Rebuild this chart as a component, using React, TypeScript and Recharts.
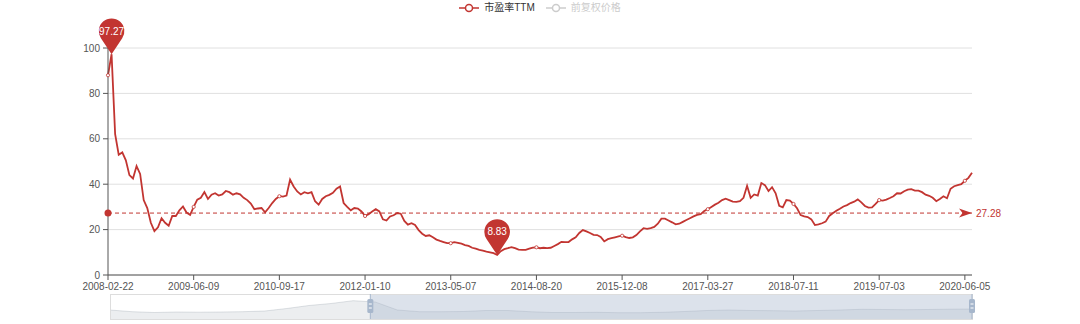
import React from 'react';
import {
  LineChart,
  Line,
  XAxis,
  YAxis,
  CartesianGrid,
  ReferenceLine,
  ReferenceDot,
  AreaChart,
  Area,
  ReferenceArea,
} from 'recharts';

// ---------- data ----------
const SERIES_NAME = '市盈率TTM';
const HIDDEN_SERIES_NAME = '前复权价格';
const TICK_LABELS = [
  '2008-02-22', '2009-06-09', '2010-09-17', '2012-01-10', '2013-05-07', '2014-08-20',
  '2015-12-08', '2017-03-27', '2018-07-11', '2019-07-03', '2020-06-05',
];
const POINTS_PER_TICK = 24;
const Y_TICKS = [0, 20, 40, 60, 80, 100];
const AVERAGE_PE = 27.28;

// PE TTM, sampled evenly (24 samples between two axis labels)
const PE_2008 = [88, 97.27, 62, 53, 54, 50.5, 44, 42.5, 48, 44.5, 33, 29.5, 23, 19.3, 21, 25, 23, 21.7, 26, 26, 28.5, 30.2, 27.5, 26.5];
const PE_2009 = [30, 33.2, 34, 36.5, 33.5, 35.4, 36, 35, 35.5, 37, 36.5, 35.4, 36, 35.5, 34, 33, 31.5, 29, 29.3, 29.5, 27.6, 29.5, 31.7, 33.5];
const PE_2010 = [34.7, 34.5, 35, 42, 39, 36.8, 35.5, 36.5, 36, 36.5, 32.5, 31, 33.5, 34.7, 35.3, 36.2, 38, 39, 31.7, 30, 28.5, 29.5, 29.3, 28];
const PE_2012 = [26, 26.8, 28, 29, 28, 24.5, 24, 25.8, 26.3, 27.3, 27, 23.8, 22.2, 22.8, 22, 19.8, 18.2, 17.2, 17.5, 16.6, 15.6, 15, 14.5, 14];
const PE_2013 = [14, 14.5, 14.2, 13.8, 13.2, 12.8, 12, 11.6, 11.1, 10.7, 10.3, 10, 9.6, 8.83, 10.5, 11.4, 11.8, 12.3, 11.8, 11.2, 11.1, 11.1, 11.6, 12.1];
const PE_2014 = [12.2, 11.8, 12, 11.8, 12, 12.8, 13.6, 14.6, 14.5, 14.5, 15.7, 16.6, 18.5, 19.8, 19.2, 18.5, 17.7, 17.6, 16.8, 14.8, 15.8, 16.2, 16.6, 17];
const PE_2015 = [17.3, 16.7, 16.3, 16.6, 17.6, 19.2, 20.6, 20.3, 20.7, 21.2, 22.6, 24.8, 24.8, 24, 23.2, 22.3, 22.6, 23.4, 24.2, 25, 25.8, 26.5, 26.8, 28.2];
const PE_2017 = [29, 30, 31, 31.8, 33, 33.6, 33, 32.3, 32.2, 32.5, 34, 39.3, 34, 35.5, 35, 40.5, 39.6, 37, 38.7, 36, 30.5, 29.8, 33, 32.8];
const PE_2018 = [31.3, 29.4, 26.4, 25.8, 25.5, 24.5, 22, 22.3, 22.8, 23.5, 26, 27.2, 28.3, 29.2, 30.2, 30.8, 31.7, 32.3, 33.3, 32, 30.4, 29.7, 29.8, 31.3];
const PE_2019 = [33, 32.8, 33.2, 33.9, 34.7, 36, 35.9, 36.9, 37.6, 37.8, 37.2, 37.2, 36.5, 35.4, 34.9, 34, 32.5, 33.5, 34.7, 33.8, 38, 39.1, 39.6, 40];
const PE_2020 = [41.5, 42.8, 45];

// data-zoom preview (background series, 40 even samples)
const ZOOM_PREVIEW = [9, 7.3, 6.5, 7, 6.8, 7, 7.3, 8, 10.5, 13.5, 15.5, 18.3, 17, 9, 7.3, 7.3, 7.5, 8.5, 8.5, 7.3, 6.5, 6.5, 6.7, 6.3, 6.3, 6.7, 7.5, 8.5, 9, 8.5, 8.3, 8, 8.5, 9, 9.7, 9.5, 9.3, 9.5, 9.8, 10];
const ZOOM_START_PCT = 30.2;
const ZOOM_END_PCT = 100;

// ---------- derived ----------
const PE_VALUES = [
  ...PE_2008, ...PE_2009, ...PE_2010, ...PE_2012, ...PE_2013, ...PE_2014,
  ...PE_2015, ...PE_2017, ...PE_2018, ...PE_2019, ...PE_2020,
];
const DATA = PE_VALUES.map((pe, i) => ({ i, pe }));
const LAST_INDEX = PE_VALUES.length - 1;
const TICK_IDX = TICK_LABELS.map((_, k) => k * POINTS_PER_TICK);
const MAX_IDX = PE_VALUES.indexOf(Math.max(...PE_VALUES));
const MIN_IDX = PE_VALUES.indexOf(Math.min(...PE_VALUES));
const PREVIEW_DATA = ZOOM_PREVIEW.map((v, k) => ({ x: (k / (ZOOM_PREVIEW.length - 1)) * 100, v }));

// ---------- style ----------
const RED = '#c23531';
const FONT = '"Liberation Sans", Arial, "Noto Sans CJK SC", sans-serif';
const W = 1080;
const H = 324;
const PLOT_LEFT = 108;
const PLOT_RIGHT = 972;
const ZOOM_TOP = 294;
const ZOOM_H = 25;

const Pin = ({ cx, cy, text }: { cx: number; cy: number; text: string }) => {
  const r = 12.8;
  const d = 23;
  const ccy = cy - d;
  const ca = r / d;
  const sa = Math.sqrt(1 - ca * ca);
  const dx = r * sa;
  const dy = r * ca;
  const path = `M${cx},${cy} L${cx - dx},${ccy + dy} A${r},${r} 0 1 1 ${cx + dx},${ccy + dy} Z`;
  return (
    <g>
      <path d={path} fill={RED} />
      <text x={cx} y={ccy} dy="0.35em" textAnchor="middle" fill="#fff" fontSize={10}>
        {text}
      </text>
    </g>
  );
};

const renderDot = (p: any) => {
  const { cx, cy, index, value } = p;
  if (index === MAX_IDX || index === MIN_IDX) {
    return <Pin key={`pin-${index}`} cx={cx} cy={cy} text={String(value)} />;
  }
  if (index % POINTS_PER_TICK === 0) {
    return <circle key={`sym-${index}`} cx={cx} cy={cy} r={1.6} fill="#fff" stroke={RED} strokeWidth={0.8} />;
  }
  return <g key={`none-${index}`} />;
};

const ArrowShape = (p: any) => {
  const { cx, cy } = p;
  return <path d={`M${cx},${cy} L${cx - 13},${cy - 4.5} L${cx - 9.5},${cy} L${cx - 13},${cy + 4.5} Z`} fill={RED} />;
};

const LegendIcon = ({ color }: { color: string }) => (
  <svg width={20} height={14} style={{ display: 'block' }}>
    <line x1={0} y1={7} x2={20} y2={7} stroke={color} strokeWidth={1.5} />
    <circle cx={10} cy={7} r={3.5} fill="#fff" stroke={color} strokeWidth={1.5} />
  </svg>
);

export default function App() {
  const hx1 = PLOT_LEFT + 2 + ((PLOT_RIGHT - PLOT_LEFT - 2) * ZOOM_START_PCT) / 100;
  const hx2 = PLOT_LEFT + 2 + ((PLOT_RIGHT - PLOT_LEFT - 2) * ZOOM_END_PCT) / 100;
  return (
    <div style={{ position: 'absolute', left: 0, top: 0, width: W, height: H, background: '#fff', fontFamily: FONT, overflow: 'hidden' }}>
      {/* legend */}
      <div style={{ position: 'absolute', left: 0, top: 0, width: W, height: 15, display: 'flex', justifyContent: 'center', alignItems: 'center', fontSize: 10, lineHeight: '15px' }}>
        <div style={{ display: 'flex', alignItems: 'center', marginRight: 11 }}>
          <LegendIcon color={RED} />
          <span style={{ marginLeft: 5, color: '#333' }}>{SERIES_NAME}</span>
        </div>
        <div style={{ display: 'flex', alignItems: 'center' }}>
          <LegendIcon color="#ccc" />
          <span style={{ marginLeft: 5, color: '#ccc' }}>{HIDDEN_SERIES_NAME}</span>
        </div>
      </div>

      <div style={{ position: 'absolute', left: 0, top: 0 }}>
        <LineChart width={W} height={H} data={DATA} margin={{ top: 48, right: W - PLOT_RIGHT, bottom: 29, left: 0 }}>
          <CartesianGrid horizontal vertical={false} stroke="#e0e0e0" />
          <XAxis
            dataKey="i"
            type="number"
            domain={[0, LAST_INDEX]}
            ticks={TICK_IDX}
            interval={0}
            height={20}
            tickSize={5}
            tickMargin={3}
            stroke="#555"
            tick={{ fill: '#555', fontSize: 10 }}
            tickFormatter={(v: number) => TICK_LABELS[TICK_IDX.indexOf(v)]}
          />
          <YAxis
            type="number"
            domain={[0, 100]}
            ticks={Y_TICKS}
            width={PLOT_LEFT}
            tickSize={5}
            tickMargin={3}
            stroke="#555"
            tick={{ fill: '#555', fontSize: 10 }}
          />
          <ReferenceLine
            y={AVERAGE_PE}
            stroke={RED}
            strokeDasharray="4 3"
            strokeWidth={1}
            label={{ value: String(AVERAGE_PE), position: 'right', fill: RED, fontSize: 10, offset: 4 }}
          />
          <ReferenceDot x={0} y={AVERAGE_PE} r={3.5} fill={RED} stroke="none" />
          <ReferenceDot x={LAST_INDEX} y={AVERAGE_PE} shape={ArrowShape} />
          <Line
            type="linear"
            dataKey="pe"
            stroke={RED}
            strokeWidth={1.8}
            dot={renderDot}
            activeDot={false}
            isAnimationActive={false}
          />
        </LineChart>
      </div>

      {/* data zoom */}
      <div style={{ position: 'absolute', left: PLOT_LEFT + 2, top: ZOOM_TOP }}>
        <AreaChart width={PLOT_RIGHT - PLOT_LEFT - 2} height={ZOOM_H} data={PREVIEW_DATA} margin={{ top: 0, right: 0, bottom: 0, left: 0 }}>
          <XAxis dataKey="x" type="number" domain={[0, 100]} hide />
          <YAxis type="number" domain={[0, ZOOM_H]} hide />
          <Area
            type="linear"
            dataKey="v"
            stroke="#2f4554"
            strokeOpacity={0.3}
            strokeWidth={0.5}
            fill="rgba(47,69,84,0.3)"
            fillOpacity={0.3}
            isAnimationActive={false}
          />
          <ReferenceArea x1={ZOOM_START_PCT} x2={ZOOM_END_PCT} fill="rgba(167,183,204,0.4)" fillOpacity={1} stroke="none" />
        </AreaChart>
      </div>
      <svg width={W} height={H} style={{ position: 'absolute', left: 0, top: 0, pointerEvents: 'none' }}>
        <rect x={PLOT_LEFT + 2.5} y={ZOOM_TOP + 0.5} width={PLOT_RIGHT - PLOT_LEFT - 2} height={ZOOM_H} fill="none" stroke="#ddd" />
        {[hx1, hx2].map((hx, k) => (
          <g key={k}>
            <line x1={hx} y1={ZOOM_TOP} x2={hx} y2={ZOOM_TOP + ZOOM_H} stroke="#a7b7cc" strokeWidth={1} />
            <rect x={hx - 3} y={ZOOM_TOP + 5} width={6} height={14} rx={1.5} fill="#a7b7cc" />
            <line x1={hx - 1.5} y1={ZOOM_TOP + 10} x2={hx + 1.5} y2={ZOOM_TOP + 10} stroke="#fff" strokeWidth={1} />
            <line x1={hx - 1.5} y1={ZOOM_TOP + 14} x2={hx + 1.5} y2={ZOOM_TOP + 14} stroke="#fff" strokeWidth={1} />
          </g>
        ))}
      </svg>
    </div>
  );
}
